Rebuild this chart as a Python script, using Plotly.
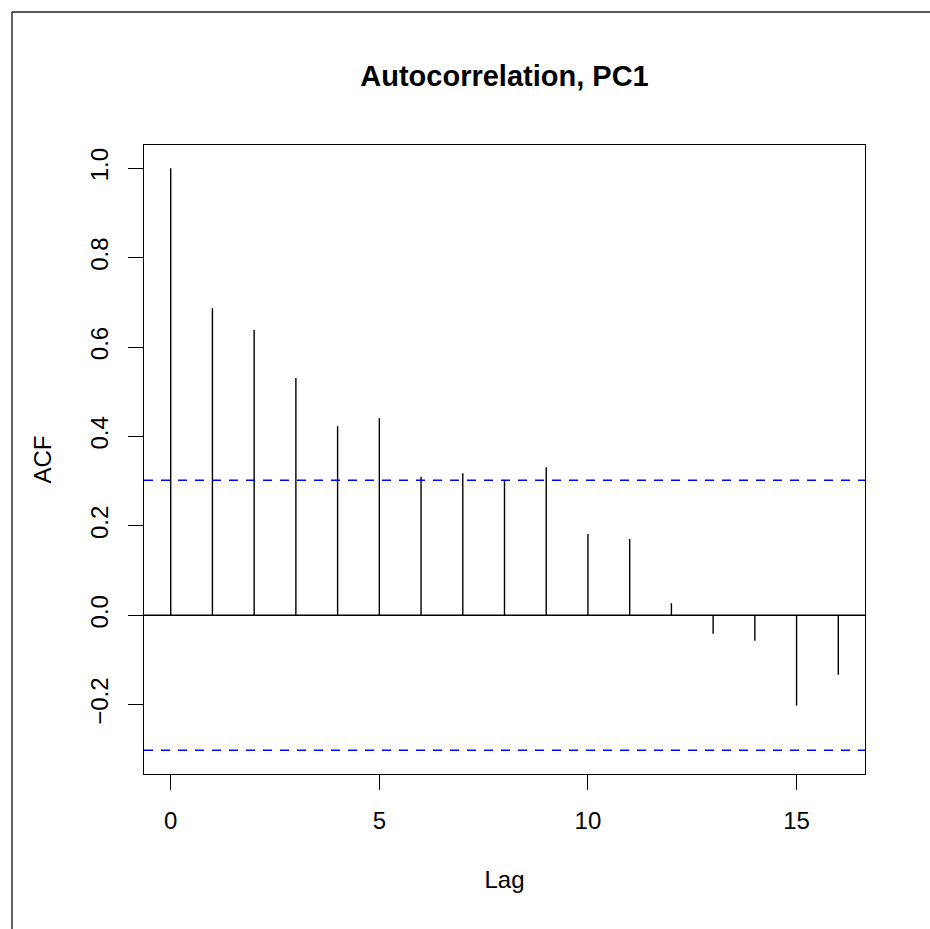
import plotly.graph_objects as go

lags = list(range(17))
acf_values = [1.0, 0.687, 0.638, 0.531, 0.423, 0.441, 0.310, 0.318, 0.300,
              0.331, 0.182, 0.171, 0.027, -0.041, -0.057, -0.202, -0.133]
conf_limit = 0.302
x_ticks = [0, 5, 10, 15]
y_ticks = [-0.2, 0.0, 0.2, 0.4, 0.6, 0.8, 1.0]
y_tick_labels = ["\u22120.2", "0.0", "0.2", "0.4", "0.6", "0.8", "1.0"]

W, H = 930, 929
L, R, T, B = 144, 865, 145, 774

xs, ys = [], []
for lag, v in zip(lags, acf_values):
    xs += [lag, lag, None]
    ys += [0, v, None]

fig = go.Figure()
fig.add_trace(go.Scatter(x=xs, y=ys, mode="lines",
                         line=dict(color="black", width=1.4),
                         hoverinfo="skip", showlegend=False))

font = "Liberation Sans, Arial, Helvetica, sans-serif"

def px_to_paper_x(px):
    return (px - L) / (R - L)

def px_to_paper_y(py):
    return (B - py) / (B - T)

shapes = []
for c in (conf_limit, -conf_limit):
    shapes.append(dict(type="line", xref="paper", yref="y", x0=0, x1=1, y0=c, y1=c,
                       line=dict(color="#0000FF", width=1.4, dash="9px,8px")))
# zero line
shapes.append(dict(type="line", xref="paper", yref="y", x0=0, x1=1, y0=0, y1=0,
                   line=dict(color="black", width=1.4)))
# outer frame (partial, as in reference)
fx, fy, fb, fr = px_to_paper_x(12), px_to_paper_y(12), px_to_paper_y(935), px_to_paper_x(935)
shapes.append(dict(type="line", xref="paper", yref="paper", x0=fx, x1=fx, y0=fb, y1=fy,
                   line=dict(color="#222222", width=1.4)))
shapes.append(dict(type="line", xref="paper", yref="paper", x0=fx, x1=fr, y0=fy, y1=fy,
                   line=dict(color="#222222", width=1.4)))

fig.update_layout(
    width=W, height=H,
    margin=dict(l=L, r=W - R, t=T, b=H - B),
    paper_bgcolor="white", plot_bgcolor="white",
    font=dict(family=font, color="black", size=24),
    title=dict(text="<b>Autocorrelation, PC1</b>", x=504.5 / W,
               xanchor="center", y=1 - 76 / H, yanchor="middle",
               font=dict(size=29, family=font, color="black")),
    shapes=shapes,
    showlegend=False,
)

fig.update_xaxes(
    range=[-0.64, 16.64], tickvals=x_ticks, ticktext=[str(t) for t in x_ticks],
    showgrid=False, zeroline=False, showline=True, linecolor="black", linewidth=1.4,
    mirror=True, ticks="outside", ticklen=15, tickwidth=1.4, tickcolor="black",
    ticklabelstandoff=10,
    title=dict(text="Lag", standoff=38, font=dict(size=24)),
)
fig.update_yaxes(
    range=[-0.355, 1.052], tickvals=y_ticks, ticktext=y_tick_labels, tickangle=-90,
    showgrid=False, zeroline=False, showline=True, linecolor="black", linewidth=1.4,
    mirror=True, ticks="outside", ticklen=15, tickwidth=1.4, tickcolor="black",
    ticklabelstandoff=10,
    title=dict(text="ACF", standoff=27, font=dict(size=24)),
)

fig.write_html("out.html", config={"displayModeBar": False},
               post_script="document.body.style.margin='0';document.body.style.overflow='hidden';")
